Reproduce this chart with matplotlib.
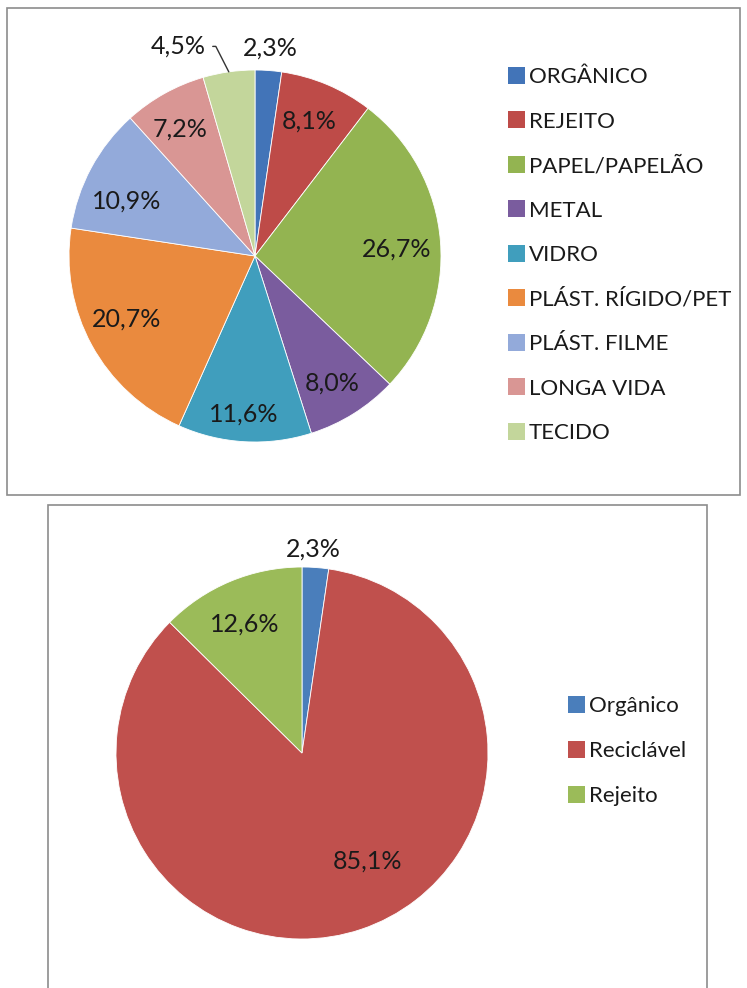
import numpy as np
import matplotlib
matplotlib.use("Agg")
import matplotlib.pyplot as plt
from matplotlib.patches import Patch, Rectangle

plt.rcParams['font.family'] = ['Lato', 'DejaVu Sans']

W, H = 747, 988

# composição detalhada
tipos = ["ORGÂNICO", "REJEITO", "PAPEL/PAPELÃO", "METAL", "VIDRO",
         "PLÁST. RÍGIDO/PET", "PLÁST. FILME", "LONGA VIDA", "TECIDO"]
tipos_pct = [2.3, 8.1, 26.7, 8.0, 11.6, 20.7, 10.9, 7.2, 4.5]
tipos_cores = ["#4274B8", "#BE4B48", "#93B451", "#7A5C9E", "#409EBD",
               "#EA8A3E", "#93AADA", "#D99694", "#C3D69B"]

# composição agrupada
grupos = ["Orgânico", "Reciclável", "Rejeito"]
grupos_pct = [2.3, 85.1, 12.6]
grupos_cores = ["#4A7EBB", "#C0504D", "#9BBB59"]

# label placement (radius factor, clockwise angle shift in degrees)
dist_top = [1.12, 0.78, 0.76, 0.80, 0.85, 0.77, 0.75, 0.79, 1.2]
shift_top = [0, -1, 1.5, 1, 1, 2.4, -5, -1.4, -12]
dist_bot = [1.10, 0.68, 0.76]
shift_bot = [-1, -12.5, -1.3]

LBL = 18


def px_rect(left, top, w, h):
    return [left / W, 1 - (top + h) / H, w / W, h / H]


def fmt(v):
    return f"{v:.1f}%".replace(".", ",")


def draw_pie(ax, vals, cores, dist, shift, leader=None):
    wedges, _ = ax.pie(vals, colors=cores, startangle=90, counterclock=False,
                       radius=1, wedgeprops=dict(edgecolor="white", linewidth=0.6))
    ax.set_xlim(-1, 1)
    ax.set_ylim(-1, 1)
    ax.axis("off")
    for i, w in enumerate(wedges):
        mid = (w.theta1 + w.theta2) / 2 - shift[i]
        x = dist[i] * np.cos(np.radians(mid))
        y = dist[i] * np.sin(np.radians(mid))
        if leader is not None and i == leader:
            m0 = np.radians((w.theta1 + w.theta2) / 2)
            ax.annotate(fmt(vals[i]), xy=(np.cos(m0), np.sin(m0)), xytext=(x, y),
                        ha="center", va="center", fontsize=LBL, color="#1a1a1a",
                        annotation_clip=False,
                        arrowprops=dict(arrowstyle="-", color="#333333", lw=1,
                                        shrinkA=3, shrinkB=0, relpos=(1, 0.5),
                                        connectionstyle="angle,angleA=0,angleB=-63"))
        else:
            ax.text(x, y, fmt(vals[i]), ha="center", va="center",
                    fontsize=LBL, color="#1a1a1a")
    return wedges


fig = plt.figure(figsize=(W / 100, H / 100), dpi=100)

# moldura dos dois gráficos
fig.patches.append(Rectangle((7 / W, 1 - 495 / H), 733 / W, 487 / H, transform=fig.transFigure,
                             fill=False, edgecolor="#8c8c8c", linewidth=1.2))
fig.patches.append(Rectangle((48 / W, -0.01), 659 / W, 1 - 505 / H + 0.01, transform=fig.transFigure,
                             fill=False, edgecolor="#8c8c8c", linewidth=1.2))

ax1 = fig.add_axes(px_rect(69, 70, 372, 372))
draw_pie(ax1, tipos_pct, tipos_cores, dist_top, shift_top, leader=8)
fig.legend(handles=[Patch(facecolor=c) for c in tipos_cores], labels=tipos,
           loc="center left", bbox_to_anchor=(508 / W, 1 - 255 / H), frameon=False,
           fontsize=16, handlelength=0.75, handleheight=0.8, handletextpad=0.2,
           labelspacing=1.09, borderpad=0, borderaxespad=0, labelcolor="#1a1a1a")

ax2 = fig.add_axes(px_rect(116, 567, 372, 372))
draw_pie(ax2, grupos_pct, grupos_cores, dist_bot, shift_bot)
fig.legend(handles=[Patch(facecolor=c) for c in grupos_cores], labels=grupos,
           loc="center left", bbox_to_anchor=(568 / W, 1 - 751 / H), frameon=False,
           fontsize=16, handlelength=0.75, handleheight=0.8, handletextpad=0.2,
           labelspacing=1.1, borderpad=0, borderaxespad=0, labelcolor="#1a1a1a")

fig.savefig("out.png", dpi=100)
